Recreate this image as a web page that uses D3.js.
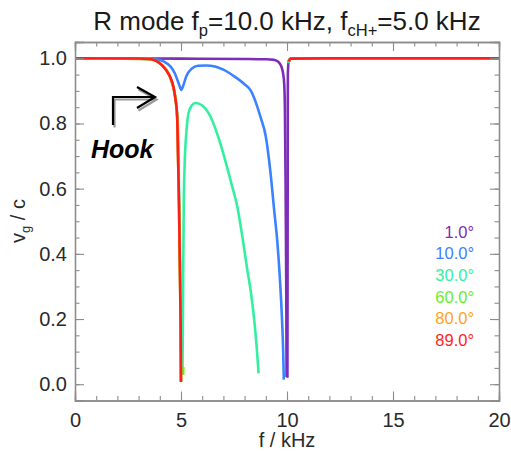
<!DOCTYPE html>
<html>
<head>
<meta charset="utf-8">
<script src="https://cdn.jsdelivr.net/npm/d3@7"></script>
<style>
  html, body { margin: 0; padding: 0; background: #fff; }
  svg text { font-family: "Liberation Sans", Arial, Helvetica, sans-serif; }
</style>
</head>
<body>
<svg id="chart" width="511" height="451"></svg>
<script>
// ---------- data ----------
const angleLabels = ["1.0°", "10.0°", "30.0°", "60.0°", "80.0°", "89.0°"];
const angleColors = ["#7d2db8", "#3a82ff", "#33f0a0", "#66ee2a", "#ffa21a", "#ff1e1e"];

const freqTicks = [0, 5, 10, 15, 20];
const vgTicks = [0.0, 0.2, 0.4, 0.6, 0.8, 1.0];
const freqTickLabels = ["0", "5", "10", "15", "20"];
const vgTickLabels = ["0.0", "0.2", "0.4", "0.6", "0.8", "1.0"];

// 1.0 deg (purple)
const a1Lower = [[0,1.0],[5,0.999],[8,0.998],[9.0,0.997],[9.3,0.996],[9.5,0.993],[9.65,0.985],[9.75,0.972],[9.82,0.952],[9.87,0.92],[9.9,0.85],[9.93,0.65],[9.95,0.45],[9.97,0.22],[9.98,0.022]];
const a1Upper = [[10.02,0.02],[10.04,0.95],[10.08,0.99],[10.2,0.999],[12,1.0],[20,1.0]];
// 10.0 deg (blue)
const a10Lower = [[0,1.0],[3.0,0.999],[3.8,0.997],[4.2,0.99],[4.5,0.975],[4.7,0.955],[4.85,0.93],[4.95,0.912],[5.02,0.903],[5.1,0.915],[5.25,0.945],[5.5,0.968],[5.8,0.977],[6.2,0.978],[6.6,0.975],[7.0,0.965],[7.5,0.945],[8.0,0.92],[8.3,0.9],[8.75,0.82],[9.0,0.76],[9.22,0.65],[9.4,0.53],[9.54,0.44],[9.65,0.34],[9.77,0.19],[9.82,0.1],[9.85,0.014]];
const a10Upper = [[10.06,0.985],[10.12,0.995],[10.2,0.999],[12,1.0],[20,1.0]];
// 30.0 deg (spring green)
const a30Lower = [[0,1.0],[3.5,0.998],[4.0,0.985],[4.5,0.94],[4.75,0.87],[4.85,0.8],[4.92,0.55],[4.97,0.3],[5.0,0.01]];
const a30Middle = [[5.07,0.035],[5.1,0.3],[5.13,0.55],[5.17,0.67],[5.25,0.77],[5.35,0.83],[5.5,0.855],[5.69,0.863],[6.0,0.855],[6.4,0.82],[6.8,0.75],[7.03,0.70],[7.4,0.61],[7.66,0.544],[7.9,0.45],[8.13,0.35],[8.3,0.28],[8.45,0.2],[8.55,0.13],[8.62,0.07],[8.66,0.033]];
const a30Upper = [[10.06,0.985],[10.12,0.995],[10.2,0.999],[12,1.0],[20,1.0]];
// 60.0 deg (green)
const a60Lower = [[0,1.0],[3.5,0.998],[4.05,0.982],[4.5,0.94],[4.75,0.87],[4.83,0.8],[4.9,0.56],[4.96,0.3],[5.0,0.008]];
const a60Middle = [[5.1,0.028],[5.11,0.053]];
const a60Upper = [[10.05,0.99],[10.12,0.996],[10.2,0.999],[12,1.0],[20,1.0]];
// 80.0 deg (orange)
const a80Lower = [[0,1.0],[3.5,0.998],[4.05,0.982],[4.5,0.94],[4.75,0.87],[4.83,0.8],[4.9,0.56],[4.96,0.3],[5.0,0.007]];
const a80Upper = [[10.06,0.99],[10.12,0.996],[10.2,0.999],[12,1.0],[20,1.0]];
// 89.0 deg (red)
const a89Lower = [[0,1.0],[3.0,0.9995],[3.6,0.997],[4.05,0.982],[4.3,0.963],[4.52,0.938],[4.65,0.91],[4.75,0.87],[4.82,0.82],[4.86,0.7],[4.91,0.545],[4.96,0.3],[4.99,0.13],[5.0,0.007]];
const a89Upper = [[10.08,0.99],[10.14,0.997],[10.2,0.999],[12,1.0],[20,1.0]];

const seriesBranches = [
  [a1Lower, a1Upper],
  [a10Lower, a10Upper],
  [a30Lower, a30Middle, a30Upper],
  [a60Lower, a60Middle, a60Upper],
  [a80Lower, a80Upper],
  [a89Lower, a89Upper]
];

// ---------- layout ----------
const svg = d3.select("#chart");
const x = d3.scaleLinear().domain([0, 20]).range([75, 499]);
const y = d3.scaleLinear().domain([-0.05, 1.05]).range([400.5, 42]);
const axisColor = "#8c8c8c";
const textColor = "#2a2a2a";

svg.append("defs").append("clipPath").attr("id", "plotclip")
  .append("rect").attr("x", x(0)).attr("y", y(1.05)).attr("width", x(20) - x(0)).attr("height", y(-0.05) - y(1.05));

// curves
const line = d3.line().x(d => x(d[0])).y(d => y(d[1])).curve(d3.curveMonotoneX);
const curves = svg.append("g").attr("clip-path", "url(#plotclip)");
seriesBranches.forEach((branches, i) => {
  branches.forEach(b => {
    curves.append("path").attr("d", line(b))
      .attr("fill", "none").attr("stroke", angleColors[i])
      .attr("stroke-width", 2.6).attr("stroke-linejoin", "round").attr("stroke-linecap", "butt");
  });
});

// axes (IDL style: ticks inside, on all four sides)
function styleAxis(g) {
  g.select(".domain").attr("stroke", axisColor).attr("stroke-width", 1.3);
  g.selectAll(".tick line").attr("stroke", axisColor).attr("stroke-width", 1.1);
  g.selectAll(".tick text").attr("fill", textColor).attr("font-size", 20)
    .attr("font-family", "'Liberation Sans', Arial, sans-serif");
}
const xMinor = d3.range(0, 21, 1);
const yMinor = d3.range(0, 1.0001, 0.05).map(v => +v.toFixed(2));

// bottom
const gB = svg.append("g").attr("transform", `translate(0,${y(-0.05)})`);
gB.call(d3.axisBottom(x).tickValues(xMinor).tickSize(-4.5).tickFormat(""));
styleAxis(gB);
const gB2 = svg.append("g").attr("transform", `translate(0,${y(-0.05)})`);
gB2.call(d3.axisBottom(x).tickValues(freqTicks).tickSize(-9).tickPadding(12)
  .tickFormat((d, i) => freqTickLabels[i]));
styleAxis(gB2);
// top
const gT = svg.append("g").attr("transform", `translate(0,${y(1.05)})`);
gT.call(d3.axisTop(x).tickValues(xMinor).tickSize(-4.5).tickFormat(""));
styleAxis(gT);
const gT2 = svg.append("g").attr("transform", `translate(0,${y(1.05)})`);
gT2.call(d3.axisTop(x).tickValues(freqTicks).tickSize(-9).tickFormat(""));
styleAxis(gT2);
// left
const gL = svg.append("g").attr("transform", `translate(${x(0)},0)`);
gL.call(d3.axisLeft(y).tickValues(yMinor).tickSize(-4.5).tickFormat(""));
styleAxis(gL);
const gL2 = svg.append("g").attr("transform", `translate(${x(0)},0)`);
gL2.call(d3.axisLeft(y).tickValues(vgTicks).tickSize(-9).tickPadding(8)
  .tickFormat((d, i) => vgTickLabels[i]));
styleAxis(gL2);
// right
const gR = svg.append("g").attr("transform", `translate(${x(20)},0)`);
gR.call(d3.axisRight(y).tickValues(yMinor).tickSize(-4.5).tickFormat(""));
styleAxis(gR);
const gR2 = svg.append("g").attr("transform", `translate(${x(20)},0)`);
gR2.call(d3.axisRight(y).tickValues(vgTicks).tickSize(-9).tickFormat(""));
styleAxis(gR2);

// title
const title = svg.append("text").attr("x", 287).attr("y", 30)
  .attr("text-anchor", "middle").attr("font-size", 26).attr("fill", "#1a1a1a");
title.append("tspan").text("R mode f");
title.append("tspan").attr("font-size", 16.5).attr("dy", 6).text("p");
title.append("tspan").attr("dy", -6).text("=10.0 kHz, f");
title.append("tspan").attr("font-size", 16.5).attr("dy", 6).text("cH+");
title.append("tspan").attr("dy", -6).text("=5.0 kHz");

// axis labels
svg.append("text").attr("x", 287).attr("y", 447).attr("text-anchor", "middle")
  .attr("font-size", 20).attr("fill", textColor).text("f / kHz");
const yl = svg.append("text").attr("transform", "translate(25,221) rotate(-90)")
  .attr("text-anchor", "middle").attr("font-size", 20).attr("fill", textColor);
yl.append("tspan").text("v");
yl.append("tspan").attr("font-size", 13).attr("dy", 5).text("g");
yl.append("tspan").attr("dy", -5).text(" / c");

// legend
const legend = svg.append("g");
angleLabels.forEach((lab, i) => {
  legend.append("text").attr("x", 474).attr("y", 237.5 + i * 21.7)
    .attr("text-anchor", "end").attr("font-size", 16.5).attr("fill", angleColors[i]).text(lab);
});

// "Hook" annotation with bent arrow
const arrowPath = "M113,125 L113,97 L154,97 M137,87 L155,97 L137,108";
svg.append("path").attr("d", arrowPath).attr("transform", "translate(1.5,2.5)")
  .attr("fill", "none").attr("stroke", "#9a9a9a").attr("stroke-width", 2.2);
svg.append("path").attr("d", arrowPath)
  .attr("fill", "none").attr("stroke", "#000").attr("stroke-width", 2.2);
svg.append("text").attr("x", 91).attr("y", 158).attr("font-size", 25)
  .attr("font-weight", "bold").attr("font-style", "italic").attr("fill", "#000").text("Hook");
</script>
</body>
</html>
